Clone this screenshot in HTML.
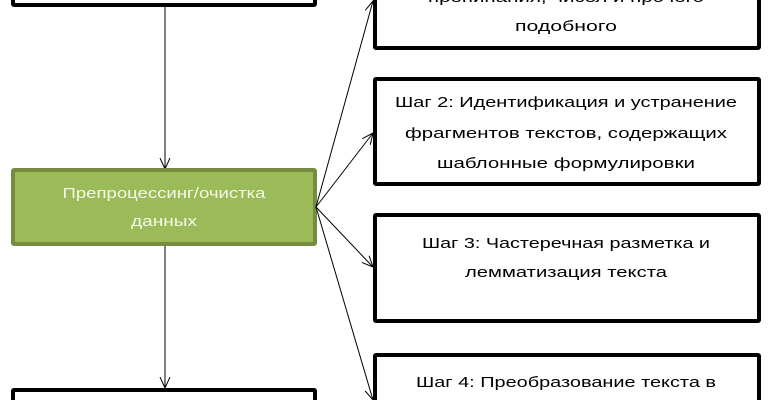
<!DOCTYPE html>
<html><head><meta charset="utf-8"><style>
html,body{margin:0;padding:0;background:#fff;width:774px;height:400px;overflow:hidden}
svg text{font-family:"Liberation Sans","DejaVu Sans",sans-serif;font-size:15px;fill:#000}
</style></head><body>
<svg width="774" height="400" xmlns="http://www.w3.org/2000/svg">
<defs>
<marker id="a" viewBox="0 0 12 12" refX="11" refY="6" markerWidth="12" markerHeight="12" markerUnits="userSpaceOnUse" orient="auto">
<path d="M0,1 L11,6 L0,11" fill="none" stroke="#000" stroke-width="1"/>
</marker>
</defs>
<rect x="13" y="-20" width="302" height="25" fill="#fff" stroke="#000" stroke-width="4" rx="1"/>
<rect x="13" y="390" width="302" height="30" fill="#fff" stroke="#000" stroke-width="4" rx="1"/>
<line x1="165" y1="7" x2="165" y2="169" stroke="#000" stroke-width="1" marker-end="url(#a)"/>
<line x1="165" y1="245" x2="165" y2="388" stroke="#000" stroke-width="1" marker-end="url(#a)"/>
<rect x="13" y="170" width="302" height="74" fill="#9bbb59" stroke="#758c42" stroke-width="4" rx="1"/>
<text x="164" y="198" text-anchor="middle" style="fill:#f4f8ea;font-size:15px" textLength="203" lengthAdjust="spacingAndGlyphs">Препроцессинг/очистка</text>
<text x="164" y="226" text-anchor="middle" style="fill:#f4f8ea;font-size:15px" textLength="66" lengthAdjust="spacingAndGlyphs">данных</text>
<rect x="375" y="-20" width="384" height="68" fill="#fff" stroke="#000" stroke-width="4" rx="1"/>
<rect x="375" y="79" width="384" height="105" fill="#fff" stroke="#000" stroke-width="4" rx="1"/>
<rect x="375" y="215" width="384" height="106" fill="#fff" stroke="#000" stroke-width="4" rx="1"/>
<rect x="375" y="355" width="384" height="60" fill="#fff" stroke="#000" stroke-width="4" rx="1"/>
<line x1="316" y1="207" x2="373" y2="1" stroke="#000" stroke-width="1" marker-end="url(#a)"/>
<line x1="316" y1="207" x2="373" y2="133" stroke="#000" stroke-width="1" marker-end="url(#a)"/>
<line x1="316" y1="207" x2="373" y2="267" stroke="#000" stroke-width="1" marker-end="url(#a)"/>
<line x1="316" y1="207" x2="373" y2="400" stroke="#000" stroke-width="1" marker-end="url(#a)"/>
<text x="566" y="2" text-anchor="middle" textLength="276" lengthAdjust="spacingAndGlyphs">препинания, чисел и прочего</text>
<text x="566" y="31" text-anchor="middle" textLength="102" lengthAdjust="spacingAndGlyphs">подобного</text>
<text x="566" y="107" text-anchor="middle" textLength="342" lengthAdjust="spacingAndGlyphs">Шаг 2: Идентификация и устранение</text>
<text x="566" y="138" text-anchor="middle" textLength="322" lengthAdjust="spacingAndGlyphs">фрагментов текстов, содержащих</text>
<text x="566" y="168" text-anchor="middle" textLength="258" lengthAdjust="spacingAndGlyphs">шаблонные формулировки</text>
<text x="566" y="248" text-anchor="middle" textLength="288" lengthAdjust="spacingAndGlyphs">Шаг 3: Частеречная разметка и</text>
<text x="566" y="277" text-anchor="middle" textLength="202" lengthAdjust="spacingAndGlyphs">лемматизация текста</text>
<text x="566" y="387" text-anchor="middle" textLength="300" lengthAdjust="spacingAndGlyphs">Шаг 4: Преобразование текста в</text>
</svg>
</body></html>
